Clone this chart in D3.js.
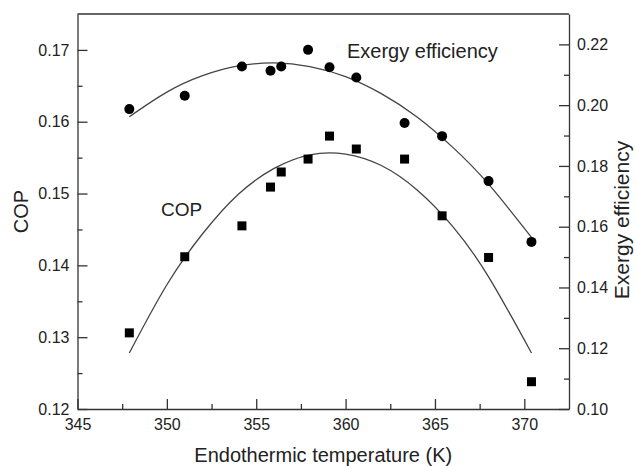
<!DOCTYPE html>
<html lang="en">
  <head>
    <meta charset="UTF-8" />
    <title>COP and exergy efficiency</title>
    <style>
      body { margin: 0; background: #fff; }
      svg text { font-family: "Liberation Sans", Arial, sans-serif; fill: #222; }
    </style>
  </head>
  <body>
    <div class="chart"></div>
    <script src="https://d3js.org/d3.v7.min.js"></script>
    <script>
      // data
      const temps = [347.9, 351.0, 354.2, 355.8, 356.4, 357.9, 359.1, 360.6, 363.3, 365.4, 368.0, 370.4];
      const cop = [0.1306, 0.1412, 0.1455, 0.1509, 0.1530, 0.1548, 0.1580, 0.1562, 0.1548, 0.1469, 0.1411, 0.1238];
      const exergy = [0.1987, 0.2031, 0.2127, 0.2113, 0.2127, 0.2182, 0.2125, 0.2091, 0.1941, 0.1898, 0.1750, 0.1550];

      // fitted curves
      const fitTemps = [347.9, 350, 352, 354, 356, 358, 360, 362, 364, 366, 368, 370.4];
      const copFit = [0.1278, 0.1373, 0.1444, 0.1499, 0.1535, 0.1554, 0.1555, 0.1539, 0.1505, 0.1454, 0.1384, 0.1278];
      const exergyFit = [0.1962, 0.2043, 0.2097, 0.2129, 0.2139, 0.2127, 0.2094, 0.2038, 0.1961, 0.1861, 0.1740, 0.1565];

      // tick values
      const xTicks = [345, 350, 355, 360, 365, 370];
      const xMinor = [347.5, 352.5, 357.5, 362.5, 367.5];
      const copTicks = [0.12, 0.13, 0.14, 0.15, 0.16, 0.17];
      const copMinor = [0.125, 0.135, 0.145, 0.155, 0.165];
      const exTicks = [0.10, 0.12, 0.14, 0.16, 0.18, 0.20, 0.22];
      const exMinor = [0.11, 0.13, 0.15, 0.17, 0.19, 0.21];

      const svgWidth = 636, svgHeight = 466;
      const plotLeft = 77.5, plotRight = 569, plotTop = 14, plotBottom = 409;

      const svg = d3.select('.chart')
                    .append('svg')
                    .attr('width', svgWidth)
                    .attr('height', svgHeight);

      const xScale = d3.scaleLinear().domain([345, 372.5]).range([plotLeft, plotRight]);
      const yCop = d3.scaleLinear().domain([0.12, 0.175]).range([plotBottom, plotTop]);
      const yEx = d3.scaleLinear().domain([0.10, 0.23]).range([plotBottom, plotTop]);

      const styleAxis = g => {
        g.selectAll('path, line').attr('stroke', '#333').attr('stroke-width', 1.3);
        g.selectAll('text').style('font-size', '16px').attr('fill', '#222');
      };

      // X axis
      svg.append('g')
        .attr('transform', `translate(0,${plotBottom})`)
        .call(d3.axisBottom(xScale).tickValues(xTicks).tickSizeInner(-10).tickSizeOuter(0).tickPadding(10))
        .call(styleAxis);
      svg.append('g')
        .attr('transform', `translate(0,${plotBottom})`)
        .call(d3.axisBottom(xScale).tickValues(xMinor).tickSize(-5).tickFormat(''))
        .call(g => g.select('.domain').remove())
        .call(styleAxis);

      // left Y axis (COP)
      svg.append('g')
        .attr('transform', `translate(${plotLeft},0)`)
        .call(d3.axisLeft(yCop).tickValues(copTicks).tickSizeInner(-10).tickSizeOuter(0).tickPadding(8).tickFormat(d3.format('.2f')))
        .call(styleAxis);
      svg.append('g')
        .attr('transform', `translate(${plotLeft},0)`)
        .call(d3.axisLeft(yCop).tickValues(copMinor).tickSize(-5).tickFormat(''))
        .call(g => g.select('.domain').remove())
        .call(styleAxis);

      // right Y axis (exergy)
      svg.append('g')
        .attr('transform', `translate(${plotRight},0)`)
        .call(d3.axisRight(yEx).tickValues(exTicks).tickSizeInner(-10).tickSizeOuter(0).tickPadding(8).tickFormat(d3.format('.2f')))
        .call(styleAxis);
      svg.append('g')
        .attr('transform', `translate(${plotRight},0)`)
        .call(d3.axisRight(yEx).tickValues(exMinor).tickSize(-5).tickFormat(''))
        .call(g => g.select('.domain').remove())
        .call(styleAxis);

      // top frame
      svg.append('line')
        .attr('x1', plotLeft).attr('x2', plotRight)
        .attr('y1', plotTop).attr('y2', plotTop)
        .attr('stroke', '#333').attr('stroke-width', 1.3);

      // fitted lines
      const copLine = d3.line()
        .x((d, i) => xScale(fitTemps[i]))
        .y(d => yCop(d))
        .curve(d3.curveNatural);
      const exLine = d3.line()
        .x((d, i) => xScale(fitTemps[i]))
        .y(d => yEx(d))
        .curve(d3.curveNatural);

      svg.append('path').attr('d', copLine(copFit))
        .attr('fill', 'none').attr('stroke', '#444').attr('stroke-width', 1.3);
      svg.append('path').attr('d', exLine(exergyFit))
        .attr('fill', 'none').attr('stroke', '#444').attr('stroke-width', 1.3);

      // markers
      svg.selectAll('.sq')
        .data(cop)
        .join('rect')
        .attr('class', 'sq')
        .attr('x', (d, i) => xScale(temps[i]) - 4.5)
        .attr('y', d => yCop(d) - 4.5)
        .attr('width', 9)
        .attr('height', 9)
        .attr('fill', '#000');

      svg.selectAll('.dot')
        .data(exergy)
        .join('circle')
        .attr('class', 'dot')
        .attr('cx', (d, i) => xScale(temps[i]))
        .attr('cy', d => yEx(d))
        .attr('r', 5)
        .attr('fill', '#000');

      // labels
      svg.append('text')
        .attr('x', 161).attr('y', 216)
        .style('font-size', '19px')
        .text('COP');
      svg.append('text')
        .attr('x', 347).attr('y', 58)
        .style('font-size', '20px')
        .text('Exergy efficiency');

      // axis titles
      svg.append('text')
        .attr('x', (plotLeft + plotRight) / 2).attr('y', 462)
        .attr('text-anchor', 'middle')
        .style('font-size', '20px')
        .text('Endothermic temperature (K)');
      svg.append('text')
        .attr('transform', `translate(28,${(plotTop + plotBottom) / 2}) rotate(-90)`)
        .attr('text-anchor', 'middle')
        .style('font-size', '20px')
        .text('COP');
      svg.append('text')
        .attr('transform', `translate(629,220) rotate(-90)`)
        .attr('text-anchor', 'middle')
        .style('font-size', '21px')
        .text('Exergy efficiency');
    </script>
  </body>
</html>
